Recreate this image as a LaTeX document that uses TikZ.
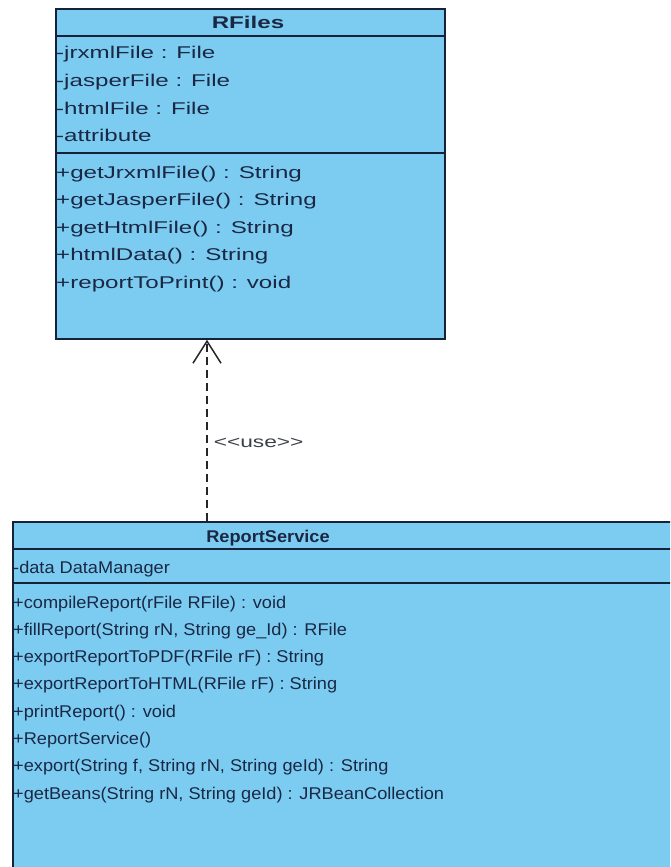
\documentclass[tikz,border=0pt]{standalone}
\usepackage{fontspec}
\setmainfont{Liberation Sans}
% two widths of the same face: the upper class is set wider than the lower one
\newfontfamily\widefont{Liberation Sans}[FakeStretch=1.42]
\newfontfamily\narrowfont{Liberation Sans}[FakeStretch=1.07]
\usetikzlibrary{arrows.meta}
\definecolor{classfill}{RGB}{124,204,242}
\definecolor{classline}{RGB}{22,34,56}
\definecolor{classtext}{RGB}{26,40,68}
\definecolor{labeltext}{RGB}{60,64,72}
\tikzset{
  classbox/.style={draw=classline, fill=classfill, line width=1.8pt, inner sep=0pt, anchor=north west},
  divider/.style={draw=classline, line width=1.8pt},
  widemember/.style={anchor=base west, inner sep=0pt, text=classtext,
    font=\widefont\fontsize{17}{20}\selectfont},
  narrowmember/.style={anchor=base west, inner sep=0pt, text=classtext,
    font=\narrowfont\fontsize{17}{20}\selectfont},
  widetitle/.style={anchor=base, inner sep=0pt, text=classtext,
    font=\widefont\bfseries\fontsize{17}{20}\selectfont},
  narrowtitle/.style={anchor=base, inner sep=0pt, text=classtext,
    font=\narrowfont\bfseries\fontsize{17}{20}\selectfont},
  usedep/.style={draw=black!85, line width=1.5pt, dash pattern=on 8pt off 5pt,
    -{Straight Barb[length=22pt, width=28pt]}},
  uselabel/.style={right, inner sep=0pt, xshift=6pt, text=labeltext,
    font=\widefont\fontsize{16}{19}\selectfont}
}
\begin{document}
\begin{tikzpicture}[x=1pt, y=-1pt]
\useasboundingbox (0,0) rectangle (670,867);
\fill[white] (0,0) rectangle (670,867);
\clip (0,0) rectangle (670,867);

% ---- class RFiles ----
\node[classbox, minimum width=389pt, minimum height=330pt] (rfiles) at (55,8) {};
\draw[divider] (rfiles.west |- 0,36) -- (rfiles.east |- 0,36);
\draw[divider] (rfiles.west |- 0,153) -- (rfiles.east |- 0,153);
\node[widetitle] (rfiles-name) at (248,29) {RFiles};
\node[widemember] (rf-a1) at (56,59)   {-jrxmlFile : File};
\node[widemember] (rf-a2) at (56,86.5) {-jasperFile : File};
\node[widemember] (rf-a3) at (56,114)  {-htmlFile : File};
\node[widemember] (rf-a4) at (56,141.5){-attribute};
\node[widemember] (rf-m1) at (56,178)  {+getJrxmlFile() : String};
\node[widemember] (rf-m2) at (56,205.5){+getJasperFile() : String};
\node[widemember] (rf-m3) at (56,233)  {+getHtmlFile() : String};
\node[widemember] (rf-m4) at (56,260.5){+htmlData() : String};
\node[widemember] (rf-m5) at (56,288)  {+reportToPrint() : void};

% ---- class ReportService (runs past the right and lower edges) ----
\node[classbox, minimum width=720pt, minimum height=400pt] (rsvc) at (12,521) {};
\draw[divider] (rsvc.west |- 0,549) -- (rsvc.east |- 0,549);
\draw[divider] (rsvc.west |- 0,583) -- (rsvc.east |- 0,583);
\node[narrowtitle] (rsvc-name) at (268,542) {ReportService};
\node[narrowmember] (rs-a1) at (13,573)   {-data DataManager};
\node[narrowmember] (rs-m1) at (13,608)   {+compileReport(rFile RFile) : void};
\node[narrowmember] (rs-m2) at (13,635.3) {+fillReport(String rN, String ge\_Id) : RFile};
\node[narrowmember] (rs-m3) at (13,662.6) {+exportReportToPDF(RFile rF) : String};
\node[narrowmember] (rs-m4) at (13,689.9) {+exportReportToHTML(RFile rF) : String};
\node[narrowmember] (rs-m5) at (13,717.2) {+printReport() : void};
\node[narrowmember] (rs-m6) at (13,744.5) {+ReportService()};
\node[narrowmember] (rs-m7) at (13,771.8) {+export(String f, String rN, String geId) : String};
\node[narrowmember] (rs-m8) at (13,799.1) {+getBeans(String rN, String geId) : JRBeanCollection};

% ---- usage dependency ----
\coordinate (usex) at (207,0);
\draw[usedep] (rsvc.north -| usex) -- node[uselabel, pos=0.43] (use-label) {{<}{<}use{>}{>}} (rfiles.south -| usex);
\end{tikzpicture}
\end{document}
